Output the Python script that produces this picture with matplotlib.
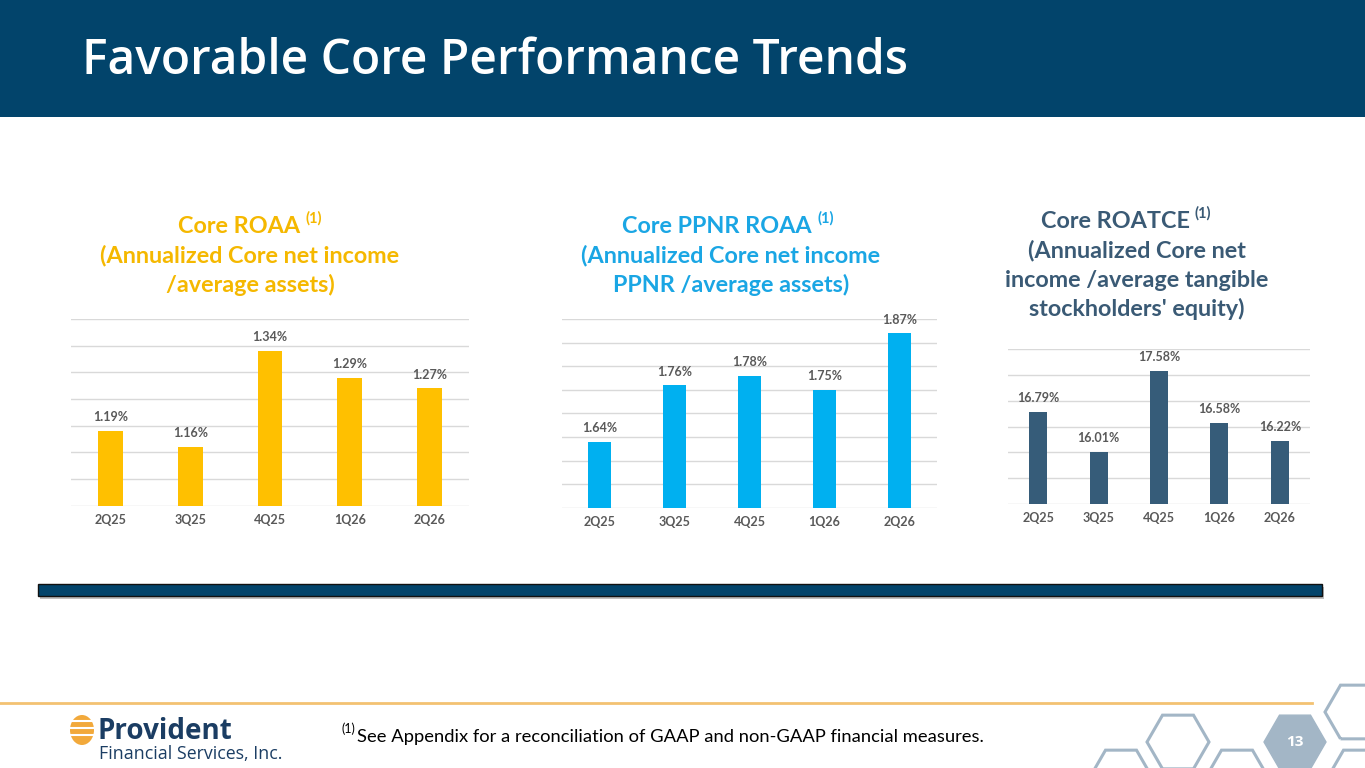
""" Favorable core performance trends: three small bar charts on one slide. """

import numpy as np
import matplotlib
matplotlib.use("Agg")
import matplotlib.pyplot as plt
from matplotlib import patches

# Chart data
quarters = ["2Q25", "3Q25", "4Q25", "1Q26", "2Q26"]
core_roaa = [1.19, 1.16, 1.34, 1.29, 1.27]
core_ppnr_roaa = [1.64, 1.76, 1.78, 1.75, 1.87]
core_roatce = [16.79, 16.01, 17.58, 16.58, 16.22]

# Titles
roaa_title = ["(Annualized Core net income", "/average assets)"]
ppnr_title = ["(Annualized Core net income", "PPNR /average assets)"]
roatce_title = ["(Annualized Core net", "income /average tangible", "stockholders' equity)"]
footnote = "See Appendix for a reconciliation of GAAP and non-GAAP financial measures."

NAVY = "#02446B"
GOLD = "#FFC000"
GOLD_TXT = "#F5B800"
SKY = "#00B0F0"
SKY_TXT = "#1AA6E4"
SLATE = "#365C79"
SLATE_TXT = "#3A5A75"
GREY_TXT = "#595959"
HEX = "#A3B6C6"

W, H = 1365, 768
BODY = "Lato"

fig = plt.figure(figsize=(W / 100, H / 100), dpi=100)
renderer = fig.canvas.get_renderer()

# Background axes in pixel coordinates (y down)
bg = fig.add_axes([0, 0, 1, 1], zorder=0)
bg.set_xlim(0, W)
bg.set_ylim(H, 0)
bg.axis("off")

# Header band
bg.add_patch(patches.Rectangle((0, 0), W, 117, color=NAVY, lw=0))
bg.text(82, 74, "Favorable Core Performance Trends", color="white", fontsize=34.5,
        fontfamily="Open Sans", fontweight="semibold", va="baseline", ha="left")


def draw_title(cx_main, cx, main, top_base, lines, colour, size=16.8):
    """ Chart heading: a main line with a (1) superscript, then extra lines. """
    t_main = bg.text(0, top_base, main, color=colour, fontsize=size, fontweight="bold",
                     fontfamily=BODY, ha="left", va="baseline")
    t_sup = bg.text(0, top_base - 10, "(1)", color=colour, fontsize=10.5, fontweight="bold",
                    fontfamily=BODY, ha="left", va="baseline")
    w_main = t_main.get_window_extent(renderer).width
    w_sup = t_sup.get_window_extent(renderer).width
    left = cx_main - (w_main + 5 + w_sup) / 2
    t_main.set_x(left)
    t_sup.set_x(left + w_main + 5)
    for i, line in enumerate(lines):
        bg.text(cx, top_base + 29.5 * (i + 1), line, color=colour, fontsize=size, fontweight="bold",
                fontfamily=BODY, ha="center", va="baseline")


draw_title(250, 250, "Core ROAA", 233, roaa_title, GOLD_TXT)
draw_title(728, 731, "Core PPNR ROAA", 233, ppnr_title, SKY_TXT)
draw_title(1126, 1137, "Core ROATCE", 228, roatce_title, SLATE_TXT)


def bar_chart(box, values, colour, ylim, step, width):
    """ Excel style column chart with value labels and light gridlines. """
    x0, y0, x1, y1 = box
    ax = fig.add_axes([x0 / W, 1 - y1 / H, (x1 - x0) / W, (y1 - y0) / H], zorder=2)
    ax.patch.set_alpha(0)
    xs = np.arange(len(quarters))
    ax.bar(xs, values, width=width, color=colour, zorder=3)
    ax.set_xlim(-0.5, len(quarters) - 0.5)
    ax.set_ylim(*ylim)
    ax.set_yticks(np.arange(ylim[0], ylim[1] + step / 2, step))
    ax.yaxis.grid(True, color="#D9D9D9", lw=1)
    ax.set_yticklabels([])
    ax.tick_params(axis="y", length=0)
    ax.set_xticks(xs)
    ax.set_xticklabels(quarters, fontsize=9, fontweight="bold", color=GREY_TXT, fontfamily=BODY)
    ax.tick_params(axis="x", length=0, pad=6)
    for s in ax.spines.values():
        s.set_visible(False)
    for x, v in zip(xs, values):
        ax.annotate(f"{v:.2f}%", (x, v), xytext=(0, 7), textcoords="offset points",
                    ha="center", va="baseline", fontsize=9, fontweight="bold",
                    color=GREY_TXT, fontfamily=BODY)
    return ax


bar_chart((71, 319, 469, 505.7), core_roaa, GOLD, (1.05, 1.40), 0.05, 0.31)
bar_chart((562, 319.3, 937, 507.7), core_ppnr_roaa, SKY, (1.50, 1.90), 0.05, 0.31)
bar_chart((1008, 349.3, 1310, 504), core_roatce, SLATE, (15.0, 18.0), 0.5, 0.30)

# Divider bar with shadow
bg.add_patch(patches.Rectangle((40, 587), 1284, 12, color="#BFBFBF", lw=0))
bg.add_patch(patches.Rectangle((38, 584), 1284, 12, facecolor=NAVY, edgecolor="#111111", lw=1))

# Footer line
bg.plot([0, 1312], [703, 703], color="#F3C272", lw=2)

# Footnote
bg.text(342, 733, "(1)", fontsize=9, fontfamily=BODY, color="black", va="baseline")
bg.text(357, 742, footnote, fontsize=13.2, fontfamily=BODY, color="black", va="baseline")

# Logo
bg.add_patch(patches.Ellipse((82, 730), 24, 30, color="#F2A93B", lw=0))
for yy in (721, 728, 735):
    bg.plot([66, 98], [yy, yy], color="white", lw=1.5)
bg.text(98, 739, "Provident", fontsize=20, fontweight="bold", fontfamily="Open Sans",
        color="#1B3D63", va="baseline")
bg.text(99, 759, "Financial Services, Inc.", fontsize=12.8, fontfamily="Open Sans",
        color="#1B3D63", va="baseline")

# Hexagon decoration
for cx, cy in [(1178, 742), (1121, 777), (1237, 777), (1356, 712), (1359, 777)]:
    bg.add_patch(patches.RegularPolygon((cx, cy), 6, radius=31, orientation=np.pi / 6,
                                        facecolor="none", edgecolor=HEX, lw=2.2))
bg.add_patch(patches.RegularPolygon((1295, 742), 6, radius=31, orientation=np.pi / 6,
                                    facecolor=HEX, edgecolor=HEX, lw=1))
bg.text(1295, 742, "13", color="white", fontsize=11, fontweight="bold", fontfamily="Open Sans",
        ha="center", va="center")

fig.savefig("out.png", dpi=100)
